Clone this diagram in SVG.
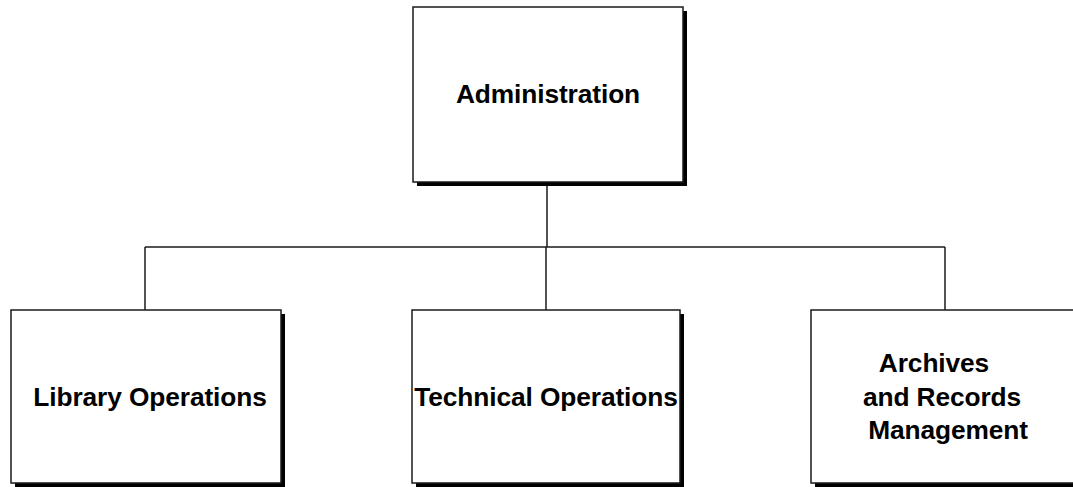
<svg xmlns="http://www.w3.org/2000/svg" width="1073" height="487" viewBox="0 0 1073 487">
<style>
.shadow{fill:#000}
.box{fill:#fff;stroke:#1a1a1a;stroke-width:1.5}
.lbl{font-family:"Liberation Sans",Arial,sans-serif;font-weight:bold;font-size:26.3px;fill:#000;text-anchor:middle;letter-spacing:-0.1px}
.conn{fill:none;stroke:#1a1a1a;stroke-width:1.5}
</style>
<rect width="1073" height="487" fill="#fff"/>
<g id="connectors">
<path class="conn" d="M547,182 V247"/>
<path class="conn" d="M145,247 H945"/>
<path class="conn" d="M145,247 V310"/>
<path class="conn" d="M546,247 V310"/>
<path class="conn" d="M945,247 V310"/>
</g>
<g id="administration">
<rect class="shadow" x="417" y="11" width="270" height="175"/>
<rect class="box" x="413" y="7" width="270" height="175"/>
<text class="lbl" x="548" y="103">Administration</text>
</g>
<g id="library-operations">
<rect class="shadow" x="15" y="314" width="270" height="173"/>
<rect class="box" x="11" y="310" width="270" height="173"/>
<text class="lbl" x="150" y="406">Library Operations</text>
</g>
<g id="technical-operations">
<rect class="shadow" x="416" y="314" width="268" height="173"/>
<rect class="box" x="412" y="310" width="268" height="173"/>
<text class="lbl" x="546" y="406">Technical Operations</text>
</g>
<g id="archives-records">
<rect class="shadow" x="815" y="314" width="270" height="173"/>
<rect class="box" x="811" y="310" width="270" height="173"/>
<text class="lbl" x="934" y="372">Archives</text>
<text class="lbl" x="942" y="406">and Records</text>
<text class="lbl" x="948" y="439">Management</text>
</g>
</svg>
